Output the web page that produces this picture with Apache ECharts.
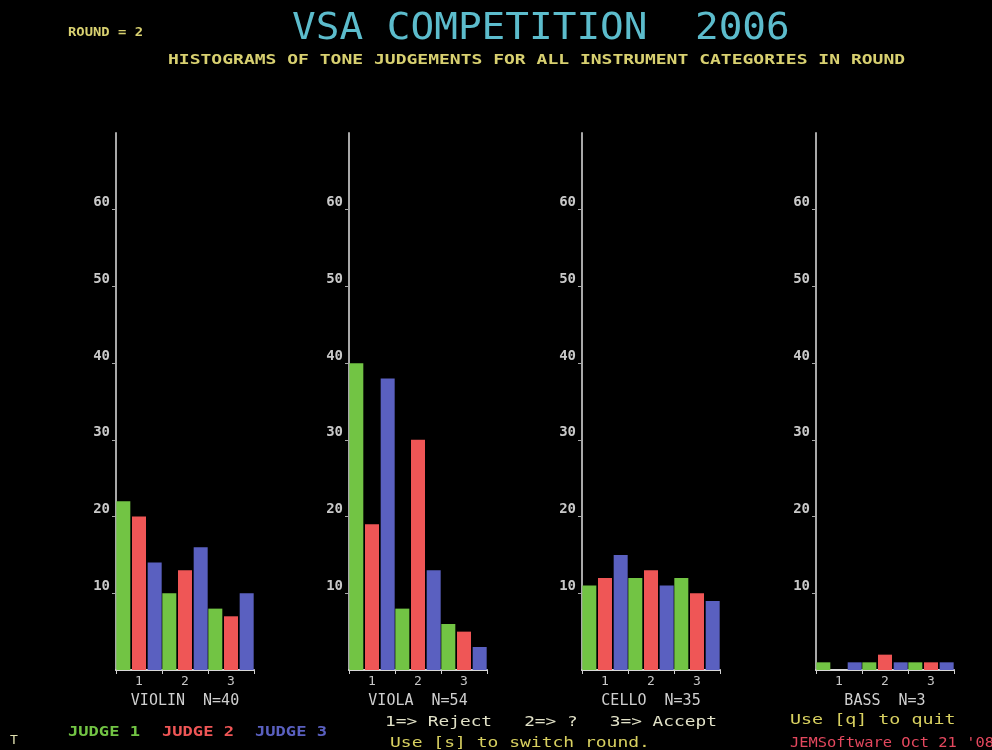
<!DOCTYPE html>
<html>
<head>
<meta charset="utf-8">
<script src="https://cdn.jsdelivr.net/npm/echarts@6/dist/echarts.min.js"></script>
<style>
  html, body { margin: 0; padding: 0; background: #000; }
  #main { width: 992px; height: 750px; }
</style>
</head>
<body>
<div id="main"></div>
<script>
// ratings: 1 = reject, 2 = ?, 3 = accept
var categories = ['1', '2', '3'];
var instruments = ['VIOLIN  N=40', 'VIOLA  N=54', 'CELLO  N=35', 'BASS  N=3'];

var violin_j1 = [22, 10, 8];
var violin_j2 = [20, 13, 7];
var violin_j3 = [14, 16, 10];

var viola_j1 = [40, 8, 6];
var viola_j2 = [19, 30, 5];
var viola_j3 = [38, 13, 3];

var cello_j1 = [11, 12, 12];
var cello_j2 = [12, 13, 10];
var cello_j3 = [15, 11, 9];

var bass_j1 = [1, 1, 1];
var bass_j2 = [0, 2, 1];
var bass_j3 = [1, 1, 1];

var yTicks = [10, 20, 30, 40, 50, 60];
var judgeNames = ['JUDGE 1', 'JUDGE 2', 'JUDGE 3'];
var judgeColors = ['#72c444', '#ef5656', '#5a60c0'];

var allData = [
    [violin_j1, violin_j2, violin_j3],
    [viola_j1, viola_j2, viola_j3],
    [cello_j1, cello_j2, cello_j3],
    [bass_j1, bass_j2, bass_j3]
];

var gridLefts = [116, 349, 582, 816];
var mono = '"DejaVu Sans Mono", "Liberation Mono", monospace';

var myChart = echarts.init(document.getElementById('main'));

var grids = [], xAxes = [], yAxes = [], series = [];
for (var i = 0; i < 4; i++) {
    grids.push({ left: gridLefts[i], top: 133, width: 138, height: 537 });
    xAxes.push({
        type: 'category',
        gridIndex: i,
        data: categories,
        name: instruments[i],
        nameLocation: 'middle',
        nameGap: 24,
        nameTextStyle: { color: '#cfcfcf', fontSize: 15, fontFamily: mono },
        axisLine: { lineStyle: { color: '#d8d8d8', width: 2 } },
        axisTick: { show: true, interval: 0, length: 4, lineStyle: { color: '#d0d0d0' } },
        axisLabel: { color: '#c8c8c8', fontSize: 13, fontFamily: mono, margin: 5 }
    });
    yAxes.push({
        type: 'value',
        gridIndex: i,
        min: 0,
        max: 70,
        interval: 10,
        splitLine: { show: false },
        axisLine: { show: true, lineStyle: { color: '#a8a8a8', width: 2 } },
        axisTick: { show: true, length: 4, customValues: yTicks, lineStyle: { color: '#a8a8a8' } },
        axisLabel: {
            customValues: yTicks,
            color: '#c8c8c8',
            fontSize: 14,
            fontWeight: 'bold',
            fontFamily: mono,
            margin: 6,
            verticalAlign: 'bottom'
        }
    });
    for (var j = 0; j < 3; j++) {
        series.push({
            name: judgeNames[j],
            type: 'bar',
            xAxisIndex: i,
            yAxisIndex: i,
            data: allData[i][j],
            barWidth: 14,
            barGap: '12%',
            itemStyle: { color: judgeColors[j] },
            animation: false
        });
    }
}

function txt(x, y, s, color, size, sx, bold) {
    return {
        type: 'text',
        x: x,
        y: y,
        scaleX: sx,
        style: {
            text: s,
            fill: color,
            font: (bold ? 'bold ' : '') + size + 'px ' + mono,
            textVerticalAlign: 'middle',
            verticalAlign: 'middle'
        }
    };
}

var option = {
    backgroundColor: '#000',
    grid: grids,
    xAxis: xAxes,
    yAxis: yAxes,
    series: series,
    graphic: [
        txt(292, 29, 'VSA COMPETITION  2006', '#5cbccc', 38, 1.036, false),
        txt(68, 33, 'ROUND = 2', '#d8d070', 13, 1.065, true),
        txt(168, 60, 'HISTOGRAMS OF TONE JUDGEMENTS FOR ALL INSTRUMENT CATEGORIES IN ROUND', '#d8d070', 14, 1.286, true),
        txt(68, 732, judgeNames[0], judgeColors[0], 14, 1.22, true),
        txt(162, 732, judgeNames[1], judgeColors[1], 14, 1.22, true),
        txt(255, 732, judgeNames[2], judgeColors[2], 14, 1.22, true),
        txt(385, 722, '1=> Reject   2=> ?   3=> Accept', '#e2e2c8', 14, 1.27, false),
        txt(390, 743, 'Use [s] to switch round.', '#d8d060', 14, 1.285, false),
        txt(790, 720, 'Use [q] to quit', '#d8d060', 14, 1.31, false),
        txt(790, 743, "JEMSoftware Oct 21 '08", '#e4485e', 14, 1.1, false),
        txt(10, 741, 'T', '#e0e0b0', 13, 1, false)
    ]
};

myChart.setOption(option);
</script>
</body>
</html>
